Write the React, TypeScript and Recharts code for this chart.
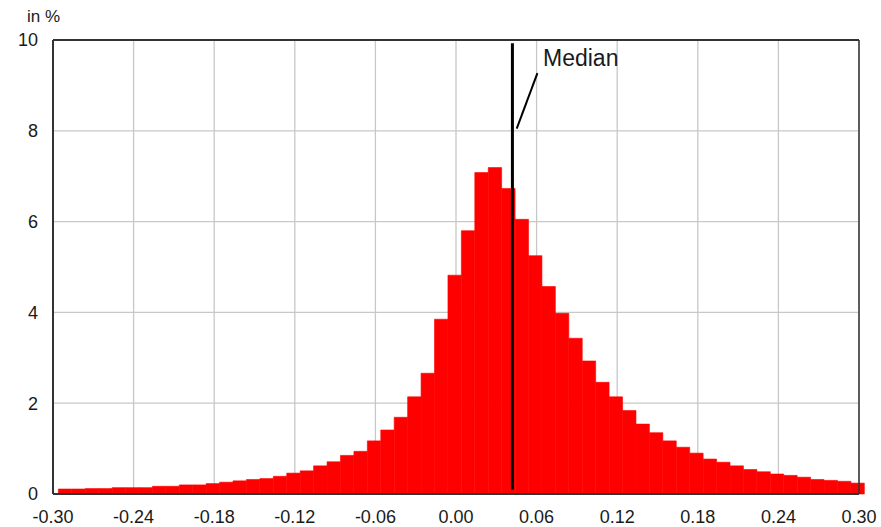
import { ComposedChart, Bar, XAxis, YAxis, CartesianGrid, ReferenceLine } from 'recharts';

// bin centres (bin width 0.01)
const binCenters = [
  -0.291, -0.281, -0.271, -0.261, -0.251, -0.241, -0.231, -0.221, -0.211, -0.201,
  -0.191, -0.181, -0.171, -0.161, -0.151, -0.141, -0.131, -0.121, -0.111, -0.101,
  -0.091, -0.081, -0.071, -0.061, -0.051, -0.041, -0.031, -0.021, -0.011, -0.001,
  0.009, 0.019, 0.029, 0.039, 0.049, 0.059, 0.069, 0.079, 0.089, 0.099,
  0.109, 0.119, 0.129, 0.139, 0.149, 0.159, 0.169, 0.179, 0.189, 0.199,
  0.209, 0.219, 0.229, 0.239, 0.249, 0.259, 0.269, 0.279, 0.289, 0.299,
];

// share in %
const shares = [
  0.11, 0.11, 0.12, 0.12, 0.14, 0.14, 0.14, 0.17, 0.17, 0.2,
  0.2, 0.23, 0.26, 0.29, 0.32, 0.34, 0.39, 0.46, 0.51, 0.62,
  0.71, 0.85, 0.94, 1.17, 1.41, 1.69, 2.14, 2.66, 3.85, 4.82,
  5.8, 7.08, 7.19, 6.73, 6.05, 5.25, 4.57, 3.98, 3.43, 2.93,
  2.46, 2.14, 1.84, 1.54, 1.35, 1.17, 1.03, 0.9, 0.77, 0.7,
  0.62, 0.54, 0.49, 0.44, 0.41, 0.37, 0.32, 0.3, 0.28, 0.24,
];

const xTicks = [-0.3, -0.24, -0.18, -0.12, -0.06, 0, 0.06, 0.12, 0.18, 0.24, 0.3];
const yTicks = [0, 2, 4, 6, 8, 10];
const median = 0.042;

const data = binCenters.map((x, i) => ({ x, share: shares[i] }));

const FONT = '"Liberation Sans", Arial, sans-serif';
const tickStyle = { fontSize: 18, fill: '#1a1a1a', fontFamily: FONT };

export default function App() {
  return (
    <div style={{ position: 'absolute', left: 0, top: 0, background: '#fff' }}>
      <ComposedChart
        width={881}
        height={527}
        data={data}
        margin={{ top: 40, right: 22, left: 0, bottom: 0 }}
        barGap={0}
        barCategoryGap={0}
      >
        <CartesianGrid stroke="#c8c8c8" strokeWidth={1.3} />
        <XAxis
          type="number"
          dataKey="x"
          domain={[-0.3, 0.3]}
          ticks={xTicks}
          tickFormatter={(v: number) => v.toFixed(2)}
          height={33}
          tickLine={false}
          tickSize={0}
          tickMargin={16}
          axisLine={{ stroke: '#333', strokeWidth: 2 }}
          tick={tickStyle}
          interval={0}
        />
        <YAxis
          type="number"
          domain={[0, 10]}
          ticks={yTicks}
          width={53}
          tickLine={false}
          tickSize={0}
          tickMargin={15}
          axisLine={{ stroke: '#333', strokeWidth: 2 }}
          tick={tickStyle}
          interval={0}
        />
        <Bar
          dataKey="share"
          fill="#ff0000"
          stroke="#ff0000"
          strokeWidth={0.6}
          barSize={13.4}
          isAnimationActive={false}
        />
        <ReferenceLine y={10} stroke="#333" strokeWidth={2} />
        <ReferenceLine x={0.3} stroke="#333" strokeWidth={1.5} />
        <ReferenceLine
          segment={[{ x: median, y: 0.1 }, { x: median, y: 9.93 }]}
          stroke="#000"
          strokeWidth={3}
        />
        <ReferenceLine
          segment={[{ x: 0.0452, y: 8.05 }, { x: 0.0606, y: 9.27 }]}
          stroke="#000"
          strokeWidth={2}
        />
        <text x={543} y={66} fontSize={23} fill="#1a1a1a" fontFamily={FONT}>Median</text>
        <text x={27} y={22} fontSize={17} fill="#1a1a1a" fontFamily={FONT}>in %</text>
      </ComposedChart>
    </div>
  );
}
